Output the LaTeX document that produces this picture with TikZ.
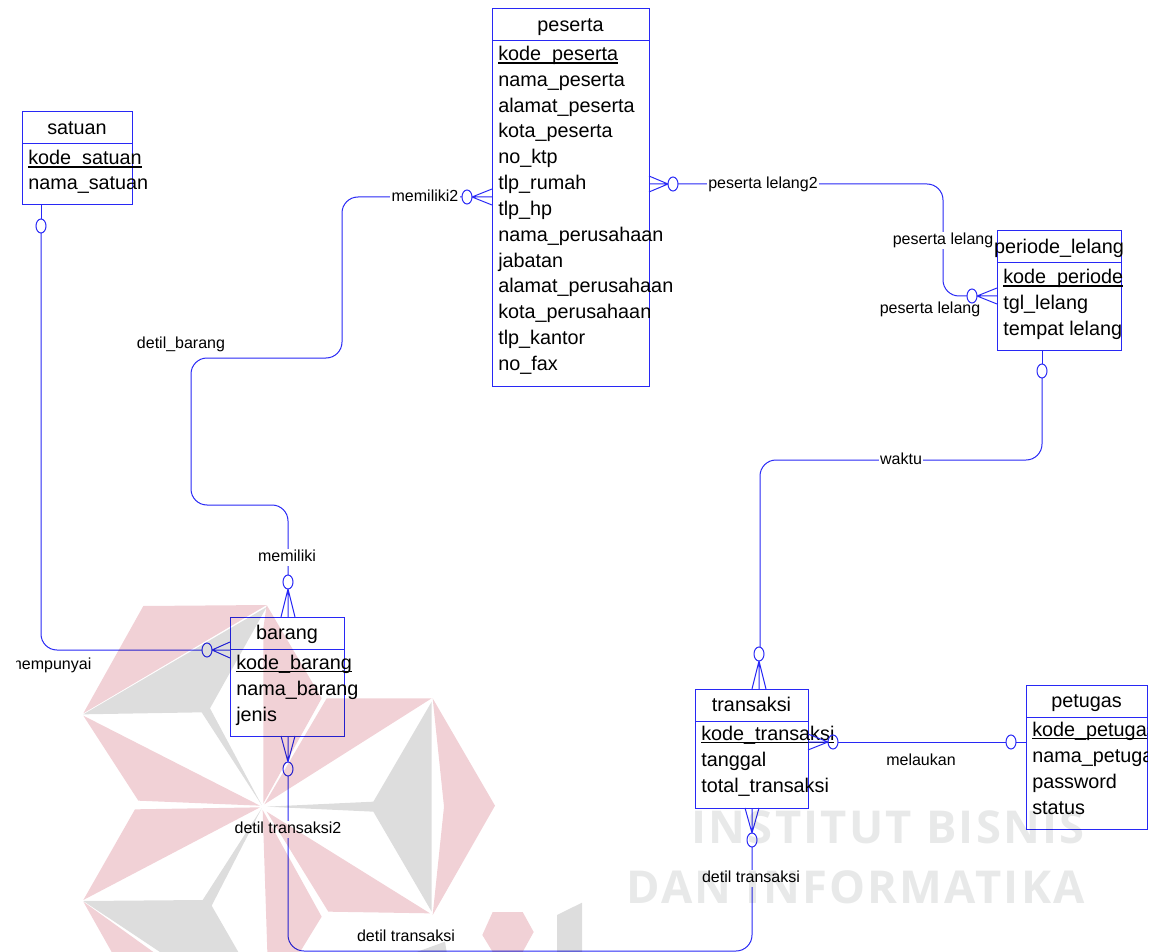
\documentclass[tikz,border=0pt]{standalone}
\usepackage{fontspec}
\setmainfont{Liberation Sans}
\newfontfamily\markfont[LetterSpace=5]{Open Sans Bold}
\usetikzlibrary{shapes.geometric,calc}
\definecolor{linkblue}{RGB}{40,40,245}
\definecolor{logored}{RGB}{241,209,214}
\definecolor{logogray}{RGB}{221,221,221}
\definecolor{markgray}{RGB}{232,233,233}
\tikzset{
        link/.style = {draw=linkblue, line width=0.75pt},
        bendlink/.style = {link, rounded corners=12pt},
        entity/.style = {link, rectangle, inner sep=0pt, outer sep=0pt},
        entitytitle/.style = {font=\fontsize{14.85}{16}\selectfont, anchor=base, inner sep=0pt},
        attr/.style = {font=\fontsize{14.85}{16}\selectfont, anchor=base west, inner sep=0pt},
        ring/.style = {link, ellipse, inner sep=0pt, outer sep=0pt, minimum width=7.5pt, minimum height=10.5pt},
        rellabel/.style = {font=\fontsize{12}{14}\selectfont, inner sep=1pt, text height=8.8pt, text depth=2.6pt, yshift=-1.1pt},
        onlink/.style = {rellabel, fill=white},
        marktext/.style = {text=markgray, anchor=base east, inner sep=0pt, font=\markfont\fontsize{34}{40}\selectfont},
}
\newsavebox{\keybox}
\newcommand{\keyname}[1]{\sbox{\keybox}{#1}\rlap{\vrule width\wd\keybox height-1.3pt depth2.5pt}\usebox{\keybox}}
% box with title row: name, top left corner, width, height, title
\newcommand{\entitybox}[5]{
    \node[entity, anchor=north west, minimum width=#3*0.75pt, minimum height=#4*0.75pt] (#1) at (#2) {};
    \draw[link] ([yshift=-24pt]#1.north west) -- ([yshift=-24pt]#1.north east);
    \node[entitytitle] (#1Title) at ([yshift=-17pt]#1.north) {#5};
}
% three lines from a ring to the side of a box
\newcommand{\crowh}[2]{
    \draw[link] (#1) -- (#1 -| #2) (#1) -- ($(#1 -| #2)+(0,-8)$) (#1) -- ($(#1 -| #2)+(0,8)$);
}
\newcommand{\crowv}[2]{
    \draw[link] (#1) -- (#1 |- #2) (#1) -- ($(#1 |- #2)+(-7,0)$) (#1) -- ($(#1 |- #2)+(7,0)$);
}

\begin{document}
\begin{tikzpicture}[x=0.75pt,y=-0.75pt]
    \useasboundingbox (0,0) rectangle (1153,952);

    \entitybox{peserta}{492,9}{157}{377}{peserta}
    \foreach \attrname [count=\i] in {\keyname{kode\_peserta},nama\_peserta,alamat\_peserta,kota\_peserta,no\_ktp,tlp\_rumah,tlp\_hp,nama\_perusahaan,jabatan,alamat\_perusahaan,kota\_perusahaan,tlp\_kantor,no\_fax}
        \node[attr] (peserta\i) at (498,{34.5+25.85*\i}) {\attrname};

    \entitybox{satuan}{22,112}{110}{93}{satuan}
    \foreach \attrname [count=\i] in {\keyname{kode\_satuan},nama\_satuan}
        \node[attr] (satuan\i) at (28,{139.5+25*\i}) {\attrname};

    \entitybox{periode}{997,231}{124}{119}{periode\_lelang}
    \foreach \attrname [count=\i] in {\keyname{kode\_periode},tgl\_lelang,tempat lelang}
        \node[attr] (periode\i) at (1003,{257.5+26*\i}) {\attrname};

    \entitybox{barang}{230,617}{114}{119}{barang}
    \foreach \attrname [count=\i] in {\keyname{kode\_barang},nama\_barang,jenis}
        \node[attr] (barang\i) at (236,{643+26*\i}) {\attrname};

    \entitybox{transaksi}{695,689}{113}{119}{transaksi}
    \foreach \attrname [count=\i] in {\keyname{kode\_transaksi},tanggal,total\_transaksi}
        \node[attr] (transaksi\i) at (701,{714+26*\i}) {\attrname};

    \entitybox{petugas}{1026,685}{121}{144}{petugas}
    \begin{scope}
        \clip (1026,685) rectangle (1147,829);
        \foreach \attrname [count=\i] in {\keyname{kode\_petugas},nama\_petugas,password,status}
            \node[attr] (petugas\i) at (1032,{710+26*\i}) {\attrname};
    \end{scope}

    \node[ring] (oSatuan) at (41,226) {};
    \node[ring] (oBarangL) at (207,650) {};
    \node[ring] (oBarangT) at (288,582) {};
    \node[ring] (oBarangB) at (288,769) {};
    \node[ring] (oPesertaL) at (467,197) {};
    \node[ring] (oPesertaR) at (673,184) {};
    \node[ring] (oPeriodeL) at (972,296) {};
    \node[ring] (oPeriodeB) at (1042,371) {};
    \node[ring] (oTransaksiT) at (759,654) {};
    \node[ring] (oTransaksiR) at (833,742) {};
    \node[ring] (oTransaksiB) at (752,840) {};
    \node[ring] (oPetugas) at (1011,742) {};

    \coordinate (bendA) at (342,358);
    \coordinate (bendB) at (191,505);
    \coordinate (bendC) at (943,296);
    \coordinate (bendD) at (760,460);
    \coordinate (bendE) at (288,951);

    \draw[link] (oSatuan.north) -- (oSatuan.north |- satuan.south);
    \draw[bendlink] (oSatuan.south) |- (oBarangL.west);
    \crowh{oBarangL.east}{barang.west}

    \crowh{oPesertaL.east}{peserta.west}
    \draw[bendlink] (oPesertaL.west) -| (bendA) -| (bendB) -| (oBarangT.north);
    \crowv{oBarangT.south}{barang.north}

    \crowh{oPesertaR.west}{peserta.east}
    \draw[bendlink] (oPesertaR.east) -| (bendC) -- (oPeriodeL.west);
    \crowh{oPeriodeL.east}{periode.west}

    \draw[link] (oPeriodeB.north) -- (oPeriodeB.north |- periode.south);
    \draw[bendlink] (oPeriodeB.south) |- (bendD) -- (bendD |- oTransaksiT.north);
    \crowv{oTransaksiT.south}{transaksi.north}

    \crowh{oTransaksiR.west}{transaksi.east}
    \draw[link] (oTransaksiR.east) -- (oPetugas.west);
    \draw[link] (oPetugas.east) -- (oPetugas.east -| petugas.west);

    \crowv{oBarangB.north}{barang.south}
    \draw[bendlink] (oBarangB.south) -- (bendE) -| (oTransaksiB.south);
    \crowv{oTransaksiB.north}{transaksi.south}

    \node[onlink] (lblMemiliki2) at (425,196) {memiliki2};
    \node[rellabel] (lblDetilBarang) at (181,343) {detil\_barang};
    \node[onlink] (lblMemiliki) at (287,556) {memiliki};
    \node[onlink] (lblLelang2) at (763,183) {peserta lelang2};
    \node[onlink] (lblLelangA) at (943,239) {peserta lelang};
    \node[rellabel] (lblLelangB) at (930,308) {peserta lelang};
    \node[onlink] (lblWaktu) at (901,459) {waktu};
    \node[rellabel] (lblMelaukan) at (921,760) {melaukan};
    \node[onlink] (lblDetil2) at (288,828) {detil transaksi2};
    \node[onlink] (lblDetilA) at (751,877) {detil transaksi};
    \node[rellabel] (lblDetilB) at (406,936) {detil transaksi};
    \begin{scope}
        \clip (16,640) rectangle (120,690);
        \node[rellabel] (lblMempunyai) at (50,664) {mempunyai};
    \end{scope}

    % watermark over the drawing, numbers are 3x from (70,595)
    \begin{scope}[blend mode=multiply]
    \begin{scope}[shift={(70,595)},x=0.25pt,y=-0.25pt]
        \fill[logored] (220,33) -- (590,30) -- (40,355) -- cycle;
        \fill[logogray] (40,358) -- (590,36) -- (420,340) -- (575,630) -- (395,352) -- cycle;
        \fill[logored] (590,30) -- (755,310) -- (580,625) -- (580,100) -- cycle;
        \fill[logored] (40,362) -- (570,632) -- (205,617) -- cycle;
        \fill[logored] (195,643) -- (570,637) -- (40,915) -- cycle;
        \fill[logogray] (40,918) -- (398,915) -- (575,640) -- (425,932) -- (505,1071) -- (270,1071) -- cycle;
        \fill[logored] (40,920) -- (250,1071) -- (125,1071) -- cycle;
        \fill[logored] (1085,310) -- (770,310) -- (583,628) -- cycle;
        \fill[logogray] (1085,320) -- (910,620) -- (590,635) -- (910,650) -- (1085,950) -- cycle;
        \fill[logored] (1088,310) -- (1275,632) -- (1088,960) -- (1122,635) -- cycle;
        \fill[logored] (590,650) -- (1080,955) -- (775,950) -- cycle;
        \fill[logored] (578,645) -- (755,965) -- (690,1071) -- (592,1071) -- cycle;
        \fill[logogray] (1040,1071) -- (1125,1040) -- (1130,1071) -- cycle;
        \fill[logored] (1268,951) -- (1358,951) -- (1391,1011) -- (1358,1071) -- (1268,1071) -- (1237,1020) -- cycle;
        \fill[logogray] (1461,960) -- (1536,923) -- (1536,1071) -- (1461,1071) -- cycle;
    \end{scope}
    \node[marktext] (markTop) at (1085,843) {INSTITUT BISNIS};
    \node[marktext] (markBottom) at (1085,903) {DAN INFORMATIKA};
    \end{scope}
\end{tikzpicture}
\end{document}
